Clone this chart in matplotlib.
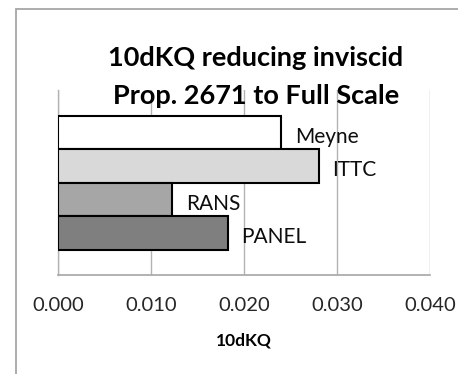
import matplotlib
matplotlib.use("Agg")
import matplotlib.pyplot as plt
from matplotlib.patches import Rectangle

# series shown as one horizontal bar each, top to bottom
series = ["Meyne", "ITTC", "RANS", "PANEL"]
dkq = [0.0240, 0.0280, 0.0122, 0.0182]
colors = ["#ffffff", "#d9d9d9", "#a6a6a6", "#7f7f7f"]
xticks = [0.000, 0.010, 0.020, 0.030, 0.040]

plt.rcParams["font.family"] = ["Lato", "DejaVu Sans"]

fig = plt.figure(figsize=(4.58, 3.74), dpi=100)
ax = fig.add_axes([0.1277, 0.2647, 0.8112, 0.4947])

# chart area border
fig.patches.append(Rectangle((15.5 / 458, -0.1), 1.2, 1 - 9.5 / 374 + 0.1,
                             transform=fig.transFigure, fill=False,
                             edgecolor="#a6a6a6", linewidth=1.3))

ypos = list(range(len(series)))
ax.barh(ypos, dkq, height=1.0, color=colors, edgecolor="black",
        linewidth=1.5, zorder=3)

for y, v, name in zip(ypos, dkq, series):
    ax.annotate(name, (v, y), xytext=(14, -4), textcoords="offset pixels",
                ha="left", va="center", fontsize=15, color="#0d0d0d")

ax.set_xlim(0, 0.040)
ax.set_ylim(4.25, -1.27)
ax.set_xticks(xticks)
ax.set_xticklabels([f"{t:.3f}" for t in xticks], fontsize=14.5, color="#262626")
ax.set_yticks([])
ax.tick_params(axis="x", length=0, pad=16)
ax.grid(axis="x", color="#b3b3b3", linewidth=1.0, zorder=0)

for side in ["top", "right"]:
    ax.spines[side].set_visible(False)
ax.spines["left"].set_color("#b3b3b3")
ax.spines["bottom"].set_color("#a6a6a6")
ax.spines["left"].set_linewidth(1.0)
ax.spines["bottom"].set_linewidth(1.2)

ax.set_xlabel("10dKQ", fontsize=12.5, fontweight="bold", labelpad=13)

fig.text(256 / 458, 1 - 77 / 374, "10dKQ reducing inviscid\nProp. 2671 to Full Scale",
         ha="center", va="center", fontsize=19.5, fontweight="bold",
         linespacing=1.7)

fig.savefig("out.png", dpi=100)
